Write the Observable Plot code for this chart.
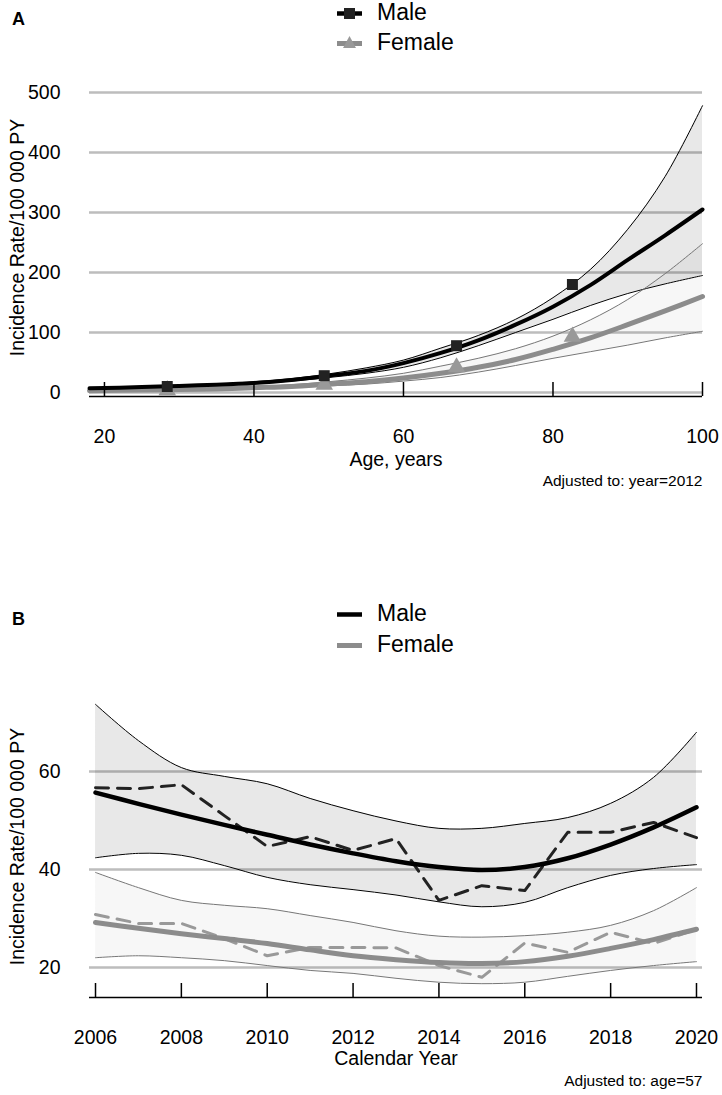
<!DOCTYPE html>
<html>
<head>
<meta charset="utf-8">
<script src="https://cdn.jsdelivr.net/npm/d3@7"></script>
<script src="https://cdn.jsdelivr.net/npm/@observablehq/plot@0.6"></script>
<style>
  html, body { margin: 0; padding: 0; background: #fff; }
  #page { position: relative; width: 722px; height: 1095px; overflow: hidden; font-family: 'Liberation Sans', Arial, Helvetica, sans-serif; color: #000; }
  .abs { position: absolute; white-space: nowrap; line-height: 1.2; }
  .panel { position: absolute; left: 0; }
  .tag { font-weight: bold; font-size: 18px; }
  .legtxt { font-size: 23px; }
</style>
</head>
<body>
<div id="page">
  <div id="panelA" class="panel" style="top:0px;"></div>
  <div id="panelB" class="panel" style="top:560px;"></div>
  <div class="abs tag" style="left:12px; top:9px;">A</div>
  <div class="abs tag" style="left:12px; top:609px;">B</div>
  <div id="legA"></div>
  <div id="legB"></div>
</div>
<script>
// ---------------- Panel A: incidence by age (adjusted to year 2012) ----------------
const ageGrid      = [18, 25, 30, 35, 40, 45, 50, 55, 60, 65, 70, 75, 80, 85, 90, 95, 100];
const maleFitA     = [7, 9, 11, 13, 16, 21, 28, 36, 49, 66, 87, 113, 143, 179, 221, 262, 305];
const maleLoA      = [6, 8, 10, 12, 15, 19, 25, 32, 42, 58, 78, 100, 122, 145, 165, 181, 195];
const maleHiA      = [8, 10, 12, 14, 18, 23, 31, 41, 54, 74, 95, 122, 158, 205, 272, 360, 478];
const femaleFitA   = [3, 4, 5, 6, 8, 10, 14, 18, 24, 32, 42, 55, 72, 91, 113, 136, 160];
const femaleLoA    = [2, 3, 4, 5, 6, 8, 11, 14, 19, 25, 34, 45, 57, 68, 79, 91, 102];
const femaleHiA    = [4, 5, 6, 8, 10, 13, 18, 24, 32, 44, 57, 73, 94, 121, 155, 198, 248];
const pointAges    = [28.4, 49.4, 67.1, 82.6];
const malePointsA  = [10, 28, 78, 180];
const femalePointsA= [4, 13, 42, 93];
const xTicksA      = [20, 40, 60, 80, 100];
const yTicksA      = [0, 100, 200, 300, 400, 500];
const xDomainA     = [18, 100];
const yDomainA     = [-6.67, 500];

// ---------------- Panel B: incidence by calendar year (adjusted to age 57) ----------------
const years        = [2006, 2007, 2008, 2009, 2010, 2011, 2012, 2013, 2014, 2015, 2016, 2017, 2018, 2019, 2020];
const maleFitB     = [55.7, 53.4, 51.2, 49.1, 47.1, 45.1, 43.3, 41.7, 40.5, 39.9, 40.5, 42.3, 45.1, 48.6, 52.7];
const maleObsB     = [56.7, 56.5, 57.3, 51.0, 44.7, 46.7, 43.9, 46.3, 33.7, 36.7, 35.7, 47.6, 47.6, 49.6, 46.5];
const maleHiB      = [73.7, 66.3, 60.8, 59.0, 57.5, 54.5, 52.0, 49.9, 48.4, 48.4, 49.4, 50.6, 53.5, 58.8, 68.0];
const maleLoB      = [42.4, 43.3, 42.9, 40.8, 38.4, 36.9, 35.9, 34.8, 33.4, 32.4, 33.3, 36.3, 38.8, 40.2, 41.0];
const femaleFitB   = [29.2, 28.0, 26.9, 25.9, 24.9, 23.6, 22.4, 21.6, 21.0, 20.8, 21.2, 22.3, 23.9, 25.7, 27.8];
const femaleObsB   = [30.8, 29.0, 29.0, 25.9, 22.4, 24.1, 24.1, 24.0, 20.4, 18.0, 25.0, 23.1, 27.2, 24.9, 27.8];
const femaleHiB    = [39.4, 36.3, 33.7, 32.7, 32.0, 30.6, 29.2, 27.5, 26.4, 26.2, 26.5, 27.2, 28.6, 31.6, 36.3];
const femaleLoB    = [22.0, 22.4, 22.0, 21.4, 20.4, 19.4, 18.8, 17.8, 17.0, 16.7, 17.0, 18.2, 19.4, 20.4, 21.2];
const xTicksB      = [2006, 2008, 2010, 2012, 2014, 2016, 2018, 2020];
const yTicksB      = [20, 40, 60];
const xDomainB     = [2005.86, 2020.14];
const yDomainB     = [13.88, 74.49];

const yTitle = "Incidence Rate/100 000 PY";
const FONT = "'Liberation Sans', Arial, Helvetica, sans-serif";
const GRID = "#bdbdbd";
const FEMALE = "#8c8c8c";

// tables built from the arrays
const maleA   = ageGrid.map((a, i) => ({age: a, fit: maleFitA[i], lo: maleLoA[i], hi: maleHiA[i]}));
const femaleA = ageGrid.map((a, i) => ({age: a, fit: femaleFitA[i], lo: femaleLoA[i], hi: femaleHiA[i]}));
const ptsMaleA   = pointAges.map((a, i) => ({age: a, v: malePointsA[i]}));
const ptsFemaleA = pointAges.map((a, i) => ({age: a, v: femalePointsA[i]}));
const maleB   = years.map((y, i) => ({year: y, fit: maleFitB[i], obs: maleObsB[i], lo: maleLoB[i], hi: maleHiB[i]}));
const femaleB = years.map((y, i) => ({year: y, fit: femaleFitB[i], obs: femaleObsB[i], lo: femaleLoB[i], hi: femaleHiB[i]}));

// ---------- Panel A ----------
const A = {width: 722, height: 500, mt: 92, mb: 104, ml: 89, mr: 20};
const frameHA = A.height - A.mt - A.mb;
const curveA = "catmull-rom";
const plotA = Plot.plot({
  width: A.width, height: A.height,
  marginTop: A.mt, marginBottom: A.mb, marginLeft: A.ml, marginRight: A.mr,
  style: {fontFamily: FONT, fontSize: "19.5px", color: "#000", background: "transparent", overflow: "visible"},
  x: {domain: xDomainA, ticks: xTicksA, tickSize: 0, tickPadding: 33, label: null},
  y: {domain: yDomainA, ticks: yTicksA, tickSize: 0, tickPadding: 29, label: null},
  marks: [
    Plot.ruleY(yTicksA, {stroke: GRID, strokeWidth: 2.5}),
    Plot.areaY(maleA, {x: "age", y1: "lo", y2: "hi", fill: "#000", fillOpacity: 0.09, curve: curveA}),
    Plot.areaY(femaleA, {x: "age", y1: "lo", y2: "hi", fill: "#000", fillOpacity: 0.03, curve: curveA}),
    Plot.line(maleA, {x: "age", y: "hi", stroke: "#000", strokeWidth: 1, curve: curveA}),
    Plot.line(maleA, {x: "age", y: "lo", stroke: "#000", strokeWidth: 1, curve: curveA}),
    Plot.line(femaleA, {x: "age", y: "hi", stroke: "#777", strokeWidth: 1, curve: curveA}),
    Plot.line(femaleA, {x: "age", y: "lo", stroke: "#777", strokeWidth: 1, curve: curveA}),
    Plot.line(femaleA, {x: "age", y: "fit", stroke: FEMALE, strokeWidth: 5, curve: curveA}),
    Plot.line(maleA, {x: "age", y: "fit", stroke: "#000", strokeWidth: 4, curve: curveA}),
    Plot.dot(ptsFemaleA, {x: "age", y: "v", symbol: "triangle", fill: "#999", stroke: "none", r: 6.5}),
    Plot.dot(ptsMaleA, {x: "age", y: "v", symbol: "square", fill: "#222", stroke: "none", r: 6.2}),
    Plot.ruleY([yDomainA[0]], {stroke: "#000", strokeWidth: 1.5}),
    Plot.tickX(xTicksA, {x: d => d, stroke: "#000", strokeWidth: 1.5, insetTop: frameHA - 14}),
    Plot.text(["Age, years"], {frameAnchor: "bottom", lineAnchor: "middle", dy: 63, fontSize: 19.5}),
    Plot.text([yTitle], {frameAnchor: "left", textAnchor: "middle", lineAnchor: "middle", rotate: -90, dx: -71.5, dy: -7, fontSize: 19.5}),
    Plot.text(["Adjusted to: year=2012"], {frameAnchor: "bottom-right", textAnchor: "end", lineAnchor: "middle", dy: 85, fontSize: 15.5})
  ]
});
document.getElementById("panelA").appendChild(plotA);

// ---------- Panel B ----------
const B = {width: 722, height: 535, mt: 140, mb: 98, ml: 89, mr: 20};
const frameHB = B.height - B.mt - B.mb;
const curveB = "catmull-rom";
const dash = "13,9";
const plotB = Plot.plot({
  width: B.width, height: B.height,
  marginTop: B.mt, marginBottom: B.mb, marginLeft: B.ml, marginRight: B.mr,
  style: {fontFamily: FONT, fontSize: "19.5px", color: "#000", background: "transparent", overflow: "visible"},
  x: {domain: xDomainB, ticks: xTicksB, tickSize: 0, tickPadding: 33, tickFormat: "d", label: null},
  y: {domain: yDomainB, ticks: yTicksB, tickSize: 0, tickPadding: 29, label: null},
  marks: [
    Plot.ruleY(yTicksB, {stroke: GRID, strokeWidth: 2.5}),
    Plot.areaY(maleB, {x: "year", y1: "lo", y2: "hi", fill: "#000", fillOpacity: 0.09, curve: curveB}),
    Plot.areaY(femaleB, {x: "year", y1: "lo", y2: "hi", fill: "#000", fillOpacity: 0.03, curve: curveB}),
    Plot.line(maleB, {x: "year", y: "hi", stroke: "#000", strokeWidth: 1, curve: curveB}),
    Plot.line(maleB, {x: "year", y: "lo", stroke: "#000", strokeWidth: 1, curve: curveB}),
    Plot.line(femaleB, {x: "year", y: "hi", stroke: "#777", strokeWidth: 1, curve: curveB}),
    Plot.line(femaleB, {x: "year", y: "lo", stroke: "#777", strokeWidth: 1, curve: curveB}),
    Plot.line(femaleB, {x: "year", y: "obs", stroke: "#999", strokeWidth: 3, strokeDasharray: dash}),
    Plot.line(maleB, {x: "year", y: "obs", stroke: "#222", strokeWidth: 3, strokeDasharray: dash}),
    Plot.line(femaleB, {x: "year", y: "fit", stroke: FEMALE, strokeWidth: 5, curve: curveB}),
    Plot.line(maleB, {x: "year", y: "fit", stroke: "#000", strokeWidth: 4.5, curve: curveB}),
    Plot.ruleY([yDomainB[0]], {stroke: "#000", strokeWidth: 1.5}),
    Plot.tickX(xTicksB, {x: d => d, stroke: "#000", strokeWidth: 1.5, insetTop: frameHB - 14}),
    Plot.text(["Calendar Year"], {frameAnchor: "bottom", lineAnchor: "middle", dy: 61, fontSize: 19.5}),
    Plot.text([yTitle], {frameAnchor: "left", textAnchor: "middle", lineAnchor: "middle", rotate: -90, dx: -71.5, dy: -2.5, fontSize: 19.5}),
    Plot.text(["Adjusted to: age=57"], {frameAnchor: "bottom-right", textAnchor: "end", lineAnchor: "middle", dy: 84, fontSize: 15.5})
  ]
});
document.getElementById("panelB").appendChild(plotB);

// ---------- Legends (HTML) ----------
function legendRow(parent, top, label, color, width, symbol) {
  const row = document.createElement("div");
  row.className = "abs";
  row.style.left = "334px";
  row.style.top = (top - 12) + "px";
  row.style.height = "24px";
  let sym = "";
  if (symbol === "square") sym = `<rect x="10" y="7" width="11" height="11" fill="#222"/>`;
  if (symbol === "triangle") sym = `<path d="M15.5,5 L22,17 L9,17 Z" fill="#999"/>`;
  row.innerHTML =
    `<svg width="31" height="24" style="position:absolute;left:0;top:0">` +
    `<line x1="3" x2="28" y1="12.5" y2="12.5" stroke="${color}" stroke-width="${width}"/>${sym}</svg>` +
    `<span class="legtxt" style="position:absolute;left:43px;top:${12 - 0.6 * 23}px;">${label}</span>`;
  document.getElementById(parent).appendChild(row);
}
legendRow("legA", 13, "Male", "#000", 4.5, "square");
legendRow("legA", 43, "Female", FEMALE, 5, "triangle");
legendRow("legB", 614, "Male", "#000", 4.5, null);
legendRow("legB", 645, "Female", FEMALE, 5, null);
</script>
</body>
</html>
